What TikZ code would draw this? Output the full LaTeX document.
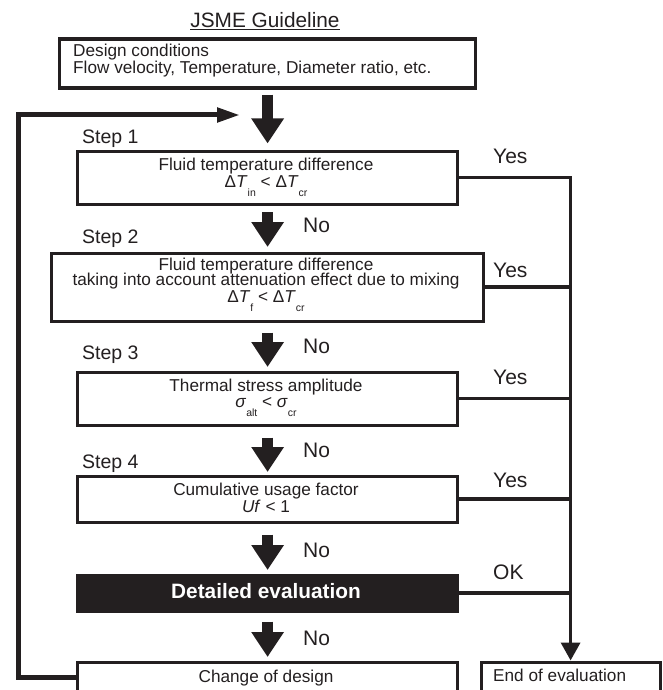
\documentclass[tikz,border=0pt]{standalone}
\usepackage{fontspec}
\setmainfont{Liberation Sans}
\usetikzlibrary{arrows.meta,calc}
\definecolor{ink}{RGB}{35,31,32}
\newcommand\dsub[1]{\raisebox{-9pt}{\fontsize{10.5pt}{10.5pt}\selectfont #1}}
\begin{document}
\begin{tikzpicture}[x=1pt,y=-1pt,
  box/.style={draw=ink, line width=3.2pt, anchor=north west, inner sep=0pt},
  body/.style={font=\fontsize{17.2pt}{18pt}\selectfont, text=ink, anchor=base, inner sep=0pt},
  lab/.style={font=\fontsize{19.5pt}{20pt}\selectfont, text=ink, anchor=base west, inner sep=0pt},
  yn/.style={lab, font=\fontsize{21pt}{22pt}\selectfont},
  bigarrow/.style={draw=ink, line width=11pt, -{Triangle[length=25pt,width=31pt]}},
  flow/.style={draw=ink, line width=3.5pt, line join=miter},
  fb/.style={draw=ink, line width=5pt, line join=miter, -{Triangle[length=23pt,width=14pt]}}
  ]
\useasboundingbox (0,0) rectangle (662,690);
\clip (0,0) rectangle (662,690);

% title
\node[font=\fontsize{20.8pt}{22pt}\selectfont, text=ink, anchor=base, inner sep=0pt] (title) at (265,28) {\underline{JSME Guideline}};

% boxes
\node[box, minimum width=416pt, minimum height=49pt] (d) at (58,37.5) {};
\node[box, minimum width=380pt, minimum height=53pt] (s1) at (76,149.5) {};
\node[box, minimum width=432pt, minimum height=68pt] (s2) at (50,251.5) {};
\node[box, minimum width=380pt, minimum height=53pt] (s3) at (76,370.5) {};
\node[box, minimum width=380pt, minimum height=46pt] (s4) at (76,474.5) {};
\node[box, fill=ink, minimum width=380pt, minimum height=36pt] (de) at (76,573.5) {};
\node[box, minimum width=380pt, minimum height=60pt] (ch) at (76,660.5) {};
\node[box, minimum width=179pt, minimum height=60pt] (en) at (479.5,660.5) {};

% texts
\node[body, anchor=base west] (d1) at (73,57) {Design conditions};
\node[body, anchor=base west] (d2) at (73,74) {Flow velocity, Temperature, Diameter ratio, etc.};
\node[body] (s1a) at (266,170) {Fluid temperature difference};
\node[body] (s1b) at (266,187) {Δ\textit{T}\dsub{in} < Δ\textit{T}\dsub{cr}};
\node[body] (s2a) at (266,270) {Fluid temperature difference};
\node[body] (s2b) at (266,285.5) {taking into account attenuation effect due to mixing};
\node[body] (s2c) at (266,302) {Δ\textit{T}\dsub{f} < Δ\textit{T}\dsub{cr}};
\node[body] (s3a) at (266,391) {Thermal stress amplitude};
\node[body] (s3b) at (266,407) {\textit{σ}\dsub{alt} < \textit{σ}\dsub{cr}};
\node[body] (s4a) at (266,495) {Cumulative usage factor};
\node[body] (s4b) at (266,512) {\textit{Uf} < 1};
\node[body, font=\bfseries\fontsize{20.8pt}{22pt}\selectfont, text=white] (dea) at (266,598.5) {Detailed evaluation};
\node[body] (cha) at (266,682) {Change of design};
\node[body, anchor=base west] (ena) at (493,681) {End of evaluation};

% step labels
\node[lab] (l1) at (82,143) {Step 1};
\node[lab] (l2) at (82,243) {Step 2};
\node[lab] (l3) at (82,359) {Step 3};
\node[lab] (l4) at (82,468) {Step 4};
\node[yn] (y1) at (493,163) {Yes};
\node[yn] (y2) at (493,277) {Yes};
\node[yn] (y3) at (493,384) {Yes};
\node[yn] (y4) at (493,487) {Yes};
\node[yn] (ok) at (493,579) {OK};
\node[yn] (n1) at (303,232) {No};
\node[yn] (n2) at (303,353) {No};
\node[yn] (n3) at (303,457) {No};
\node[yn] (n4) at (303,557) {No};
\node[yn] (n5) at (303,645) {No};

% big arrows
\draw[bigarrow] ([yshift=-5pt]d.south) -- ([yshift=6pt]s1.north);
\draw[bigarrow] ([yshift=-6.5pt]s1.south) -- ([yshift=4.5pt]s2.north);
\draw[bigarrow] ([yshift=-10pt]s2.south) -- ([yshift=3.5pt]s3.north);
\draw[bigarrow] ([yshift=-11pt]s3.south) -- ([yshift=2.5pt]s4.north);
\draw[bigarrow] ([yshift=-11pt]s4.south) -- ([yshift=3.5pt]de.north);
\draw[bigarrow] ([yshift=-9pt]de.south) -- ([yshift=3.5pt]ch.north);

% yes connectors
\draw[flow, -{Triangle[length=18pt,width=19pt]}] (s1.east) -| (en.north);
\draw[flow] (s2.east) -- (s2.east -| en.north);
\draw[flow] (s3.east) -- (s3.east -| en.north);
\draw[flow] (s4.east) -- (s4.east -| en.north);
\draw[flow] (de.east) -- (de.east -| en.north);

% feedback
\coordinate (fb1) at (18,677);
\coordinate (fb2) at (18,115);
\coordinate (fbt) at (240,115);
\draw[fb] (ch.west |- fb1) -- (fb1) -- (fb2) -- (fbt);
\end{tikzpicture}
\end{document}
